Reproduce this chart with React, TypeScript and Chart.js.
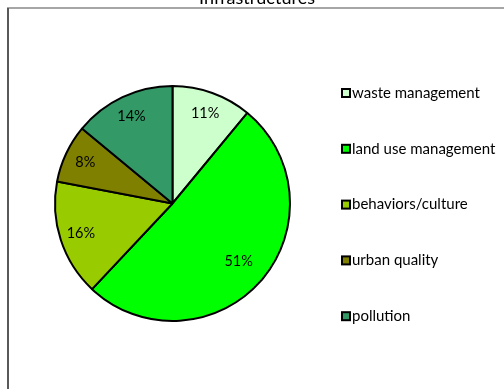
import React, { useEffect, useRef } from "react";
import { Chart, registerables } from "chart.js";

Chart.register(...registerables);

const title = "Infrastructures";
const categories = ["waste management", "land use management", "behaviors/culture", "urban quality", "pollution"];
const values = [11, 51, 16, 8, 14];
const colors = ["#CCFFCC", "#00FF00", "#99CC00", "#808000", "#339966"];
const FONT = "Lato, 'Open Sans', sans-serif";

const decorPlugin = {
  id: "decor",
  afterDraw(chart: any) {
    const ctx = chart.ctx;
    ctx.save();
    // frame
    ctx.fillStyle = "#A6A6A6";
    ctx.fillRect(7, 7, chart.width - 7, 2);
    ctx.fillStyle = "#595959";
    ctx.fillRect(7, 8, 2, chart.height - 8);
    // title
    ctx.fillStyle = "#000";
    ctx.font = `18px ${FONT}`;
    ctx.textAlign = "center";
    ctx.textBaseline = "alphabetic";
    ctx.fillText(title, 257, 4);
    // percentage labels
    const meta = chart.getDatasetMeta(0);
    const total = values.reduce((a, b) => a + b, 0);
    ctx.font = `14.5px ${FONT}`;
    ctx.textBaseline = "middle";
    meta.data.forEach((arc: any, i: number) => {
      const mid = (arc.startAngle + arc.endAngle) / 2;
      const f = values[i] / total > 0.4 ? 0.75 : 0.82;
      const r = arc.outerRadius * f;
      const x = arc.x + Math.cos(mid) * r;
      const y = arc.y + Math.sin(mid) * r;
      ctx.fillText(Math.round((values[i] / total) * 100) + "%", x, y);
    });
    // legend
    const lx = 341;
    const y0 = 93;
    const step = 55.8;
    ctx.textAlign = "left";
    categories.forEach((c, i) => {
      const y = y0 + i * step;
      ctx.fillStyle = "#000";
      ctx.fillRect(lx, y - 5, 10, 10);
      ctx.fillStyle = colors[i];
      ctx.fillRect(lx + 2, y - 3, 6, 6);
      ctx.fillStyle = "#000";
      ctx.font = `15px ${FONT}`;
      ctx.fillText(c, lx + 11, y);
    });
    ctx.restore();
  },
};

export default function App() {
  const ref = useRef<HTMLCanvasElement>(null);
  useEffect(() => {
    if (!ref.current) return;
    const chart = new Chart(ref.current, {
      type: "pie",
      data: {
        labels: categories,
        datasets: [
          {
            data: values,
            backgroundColor: colors,
            borderColor: "#000",
            borderWidth: 2,
          },
        ],
      },
      options: {
        animation: false,
        responsive: false,
        events: [],
        layout: { padding: { left: 54, right: 213, top: 85, bottom: 67 } },
        plugins: {
          legend: { display: false },
          tooltip: { enabled: false },
          title: { display: false },
        },
      },
      plugins: [decorPlugin],
    });
    return () => chart.destroy();
  }, []);
  return (
    <div style={{ position: "fixed", left: 0, top: 0, width: 504, height: 389, background: "#fff" }}>
      <canvas ref={ref} width={504} height={389} style={{ display: "block" }} />
    </div>
  );
}
